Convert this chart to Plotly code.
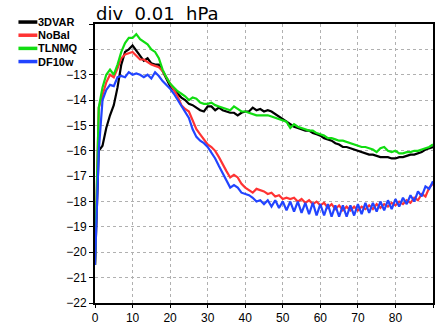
import plotly.graph_objects as go

x_hours = list(range(0, 91))

var3d = [-20.5, -16.0, -15.8, -15.1, -14.6, -14.2, -13.5, -12.6, -12.1, -12.0,
         -11.85, -12.05, -12.25, -12.45, -12.35, -12.55, -12.6, -12.6, -12.85, -13.15,
         -13.45, -13.6, -13.75, -13.9, -14.0, -14.15, -14.2, -14.3, -14.4, -14.45,
         -14.25, -14.25, -14.4, -14.3, -14.4, -14.45, -14.5, -14.5, -14.6, -14.5,
         -14.45, -14.45, -14.3, -14.4, -14.35, -14.45, -14.4, -14.45, -14.55, -14.65,
         -14.75, -14.85, -14.95, -15.05, -15.1, -15.15, -15.2, -15.2, -15.3, -15.35,
         -15.4, -15.5, -15.55, -15.6, -15.7, -15.75, -15.85, -15.85, -15.9, -15.95,
         -16.0, -16.05, -16.1, -16.15, -16.15, -16.2, -16.25, -16.25, -16.25, -16.3,
         -16.3, -16.25, -16.25, -16.2, -16.15, -16.15, -16.1, -16.05, -15.95, -15.9,
         -15.85]

nobal = [-20.5, -14.3, -13.8, -13.3, -13.0, -13.1, -12.75, -12.35, -12.2, -12.15,
         -12.1, -12.25, -12.4, -12.4, -12.5, -12.6, -12.65, -12.7, -12.85, -13.1,
         -13.35, -13.6, -13.85, -14.2, -14.35, -14.45, -14.8, -15.15, -15.35, -15.55,
         -15.75, -15.85, -16.0, -16.25, -16.55, -16.8, -17.05, -16.95, -17.05, -17.3,
         -17.45, -17.55, -17.65, -17.5, -17.55, -17.6, -17.7, -17.65, -17.8, -17.75,
         -17.9, -17.85, -17.9, -17.85, -18.0, -17.9, -18.05, -17.95, -18.1, -18.0,
         -18.15, -18.05, -18.25, -18.1, -18.3, -18.15, -18.35, -18.2, -18.35, -18.2,
         -18.35, -18.2, -18.3, -18.15, -18.3, -18.1, -18.25, -18.1, -18.2, -18.05,
         -18.15, -18.0, -18.1, -17.95, -18.05, -17.85, -17.95, -17.7, -17.8, -17.45,
         -17.3]

tlnmq = [-20.5, -14.3, -13.5, -13.0, -12.8, -13.0, -12.6, -12.1, -11.75, -11.55,
         -11.55, -11.4, -11.6, -11.7, -11.8, -12.0, -12.1, -12.35, -12.8, -13.1,
         -13.35, -13.5, -13.65, -13.75, -13.85, -14.0, -13.9, -13.95, -14.1, -14.15,
         -14.15, -14.1, -14.2, -14.25, -14.3, -14.35, -14.4, -14.25, -14.35, -14.45,
         -14.45, -14.5, -14.55, -14.6, -14.6, -14.6, -14.6, -14.65, -14.7, -14.75,
         -14.8, -14.85, -15.1, -14.95, -15.05, -15.1, -15.15, -15.2, -15.2, -15.3,
         -15.35, -15.4, -15.5, -15.5, -15.55, -15.6, -15.6, -15.65, -15.7, -15.75,
         -15.8, -15.85, -15.85, -15.9, -15.95, -16.05, -15.9, -15.85, -16.0, -16.05,
         -16.0, -16.1, -16.1, -16.05, -16.05, -16.0, -16.0, -15.95, -15.9, -15.85,
         -15.75]

df10w = [-20.5, -16.0, -14.0, -13.6, -13.4, -13.45, -13.1, -13.05, -13.1, -12.9,
         -13.0, -12.95, -13.0, -13.1, -13.0, -13.15, -12.9, -13.05, -13.25, -13.4,
         -13.55, -13.75, -14.0, -14.25, -14.5, -14.7, -15.15, -15.45, -15.6, -15.7,
         -15.85, -16.05, -16.3, -16.6, -16.9, -17.15, -17.45, -17.35, -17.45, -17.65,
         -17.7, -17.75, -17.85, -18.0, -17.95, -18.1, -17.95, -18.2, -17.95, -18.25,
         -18.0, -18.35, -18.0, -18.4, -18.0, -18.45, -18.05, -18.5, -18.05, -18.55,
         -18.1, -18.55, -18.1, -18.6, -18.15, -18.6, -18.15, -18.6, -18.15, -18.55,
         -18.1, -18.5, -18.05, -18.45, -18.05, -18.4, -18.0, -18.35, -17.95, -18.3,
         -17.9, -18.2, -17.85, -18.1, -17.75, -18.0, -17.6, -17.8, -17.4, -17.5,
         -17.2]

series_names = ["3DVAR", "NoBal", "TLNMQ", "DF10w"]
series_values = [var3d, nobal, tlnmq, df10w]
series_colors = ["#000000", "#ff3333", "#11dd11", "#2244ff"]

x_tick_vals = [0, 10, 20, 30, 40, 50, 60, 70, 80, 90]
x_tick_text = ["0", "10", "20", "30", "40", "50", "60", "70", "80", "90"]
y_tick_vals = [-22, -21, -20, -19, -18, -17, -16, -15, -14, -13, -12, -11]
y_tick_text = ["\u221222", "\u221221", "\u221220", "\u221219", "\u221218", "\u221217",
               "\u221216", "\u221215", "\u221214", "\u221213", "", ""]

title_text = "div  0.01  hPa"

fig = go.Figure()
for name, vals, col in zip(series_names, series_values, series_colors):
    fig.add_trace(go.Scatter(x=x_hours, y=vals, mode="lines", name=name,
                             line=dict(color=col, width=2.2), showlegend=False))

# manual legend (left of plot)
L, R, T, B = 95, 3, 24, 18
W, H = 438 - L - R, 328 - T - B
leg_rows_px = [22, 35.5, 49, 62.5]
for name, col, py in zip(series_names, series_colors, leg_rows_px):
    yp = (328 - B - py) / H
    fig.add_shape(type="line", xref="paper", yref="paper",
                  x0=(18 - L) / W, x1=(37 - L) / W, y0=yp, y1=yp,
                  line=dict(color=col, width=3.5))
    fig.add_annotation(xref="paper", yref="paper", x=(37 - L) / W, y=yp,
                       xanchor="left", yanchor="middle", showarrow=False,
                       borderpad=0,
                       text="<b>%s</b>" % name,
                       font=dict(family="Liberation Sans", size=11, color="black"))

fig.add_annotation(xref="paper", yref="paper", x=0, y=1.0, xanchor="left",
                   yanchor="bottom", yshift=-1, showarrow=False, text=title_text,
                   borderpad=0,
                   font=dict(family="DejaVu Sans", size=18, color="black"))

fig.update_layout(
    width=438, height=328,
    margin=dict(l=L, r=R, t=T, b=B),
    paper_bgcolor="white", plot_bgcolor="white",
)
fig.update_xaxes(range=[0, 90], tickvals=x_tick_vals, ticktext=x_tick_text,
                 showline=True, linecolor="black", linewidth=2, mirror=True,
                 ticks="outside", ticklen=3, tickcolor="black",
                 showgrid=True, gridcolor="#b0b0b0", gridwidth=1, griddash="dot",
                 zeroline=False,
                 tickfont=dict(family="Liberation Sans", size=12, color="black"))
fig.update_yaxes(range=[-22, -11], tickvals=y_tick_vals, ticktext=y_tick_text,
                 showline=True, linecolor="black", linewidth=2, mirror=True,
                 ticks="outside", ticklen=4, tickcolor="black",
                 showgrid=True, gridcolor="#b0b0b0", gridwidth=1, griddash="dot",
                 zeroline=False,
                 tickfont=dict(family="Liberation Sans", size=12, color="black"))

fig.write_html("out.html")
